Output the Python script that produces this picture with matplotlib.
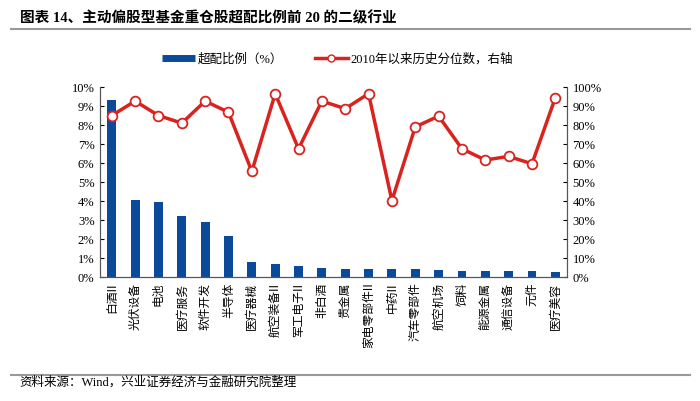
import matplotlib
matplotlib.use('Agg')
import matplotlib.pyplot as plt
from matplotlib.lines import Line2D
import numpy as np

plt.rcParams['font.family'] = ['Liberation Serif', 'Noto Sans CJK SC']

industries = ['白酒II', '光伏设备', '电池', '医疗服务', '软件开发', '半导体', '医疗器械',
              '航空装备II', '军工电子II', '非白酒', '贵金属', '家电零部件II', '中药II',
              '汽车零部件', '航空机场', '饲料', '能源金属', '通信设备', '元件', '医疗美容']
overweight = [9.33, 4.05, 3.96, 3.23, 2.91, 2.18, 0.81, 0.70, 0.58, 0.47,
              0.42, 0.42, 0.41, 0.40, 0.37, 0.34, 0.33, 0.33, 0.30, 0.25]
percentile = [85, 92.6, 85, 81, 92.6, 86.7, 55.6, 96.5, 67.5, 92.6,
              88.6, 96.5, 40.2, 79, 84.7, 67.5, 61.6, 63.5, 59.6, 94.4]

fig = plt.figure(figsize=(7, 4.01), dpi=100)
ax = fig.add_axes([0.143, 0.309, 0.667, 0.474])
x = np.arange(len(industries))

ax.bar(x, overweight, width=0.38, color='#0b4a9b')
ax.set_xlim(-0.5, len(industries) - 0.5)
ax.set_ylim(0, 10)
ax.set_yticks(range(0, 11))
ax.set_yticklabels([f'{v}%' for v in range(0, 11)], fontsize=9)
ax.set_xticks(x)
ax.set_xticklabels(industries, rotation=90, fontsize=8.5, family=['Noto Sans CJK SC'])
ax.tick_params(axis='y', direction='in', length=3, pad=4)
ax.tick_params(axis='x', length=0, pad=4)
ax.spines['top'].set_visible(False)

ax2 = ax.twinx()
ax2.plot(x, percentile, color='#d9231f', linewidth=2.5, marker='o', markersize=7,
         markerfacecolor='white', markeredgecolor='#d9231f', markeredgewidth=1.3)
ax2.set_ylim(0, 100)
ax2.set_yticks(range(0, 101, 10))
ax2.set_yticklabels([f'{v}%' for v in range(0, 101, 10)], fontsize=9)
ax2.tick_params(axis='y', direction='in', length=3, pad=4)
ax2.spines['top'].set_visible(False)
for s in ['left', 'right', 'bottom']:
    ax.spines[s].set_color('#555555')
    ax2.spines[s].set_color('#555555')

handles = [Line2D([], [], color='#0b4a9b', linewidth=5, solid_capstyle='butt'),
           Line2D([], [], color='#d9231f', linewidth=2.5, marker='o', markersize=5,
                  markerfacecolor='white', markeredgecolor='#d9231f')]
fig.legend(handles, ['超配比例（%）', '2010年以来历史分位数，右轴'], loc='center',
           bbox_to_anchor=(0.482, 0.852), ncol=2, frameon=False, fontsize=9,
           handlelength=2.6, columnspacing=2.6, handletextpad=0.2)

fig.text(0.028, 0.955, '图表 14、主动偏股型基金重仓股超配比例前 20 的二级行业',
         fontsize=10.5, fontweight='bold', va='center', ha='left')
fig.add_artist(Line2D([0.015, 0.985], [0.927, 0.927], color='#999999', linewidth=1.5))
fig.add_artist(Line2D([0.015, 0.985], [0.065, 0.065], color='#999999', linewidth=1.5))
fig.text(0.028, 0.045, '资料来源：Wind，兴业证券经济与金融研究院整理',
         fontsize=9, va='center', ha='left')

fig.savefig('out.png', dpi=100)
